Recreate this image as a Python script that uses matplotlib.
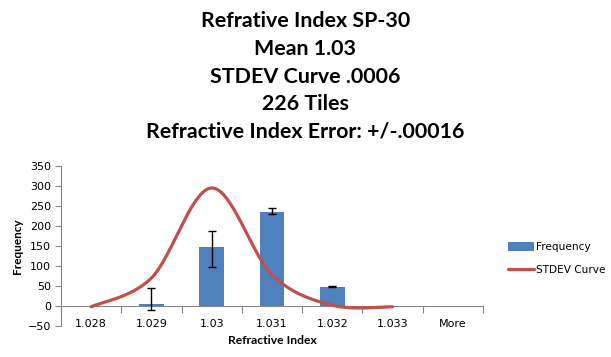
import numpy as np
import matplotlib
matplotlib.use("Agg")
import matplotlib.pyplot as plt

categories = ["1.028", "1.029", "1.03", "1.031", "1.032", "1.033", "More"]
frequency = [0, 5, 148, 235, 48, 0, 0]
err_low = [0, 16, 50, 5, 1, 0, 0]
err_high = [0, 39, 39, 10, 1, 0, 0]
stdev_curve = [-2, 70, 295, 78, 2, -2]
title_lines = ["Refrative Index SP-30", "Mean 1.03", "STDEV Curve .0006",
               "226 Tiles", "Refractive Index Error: +/-.00016"]

BLUE = "#4F81BD"
RED = "#C0504D"
AXIS = "#868686"

W, H = 611, 357
fig = plt.figure(figsize=(W / 100, H / 100), dpi=100)
ax = fig.add_axes([61 / W, 1 - 326 / H, (483 - 61) / W, (326 - 166) / H])

x = np.arange(len(categories))
bars = ax.bar(x, frequency, width=0.41, color=BLUE, zorder=2, label="Frequency")
mask = [i for i in range(len(categories)) if err_low[i] or err_high[i]]
ax.errorbar(x[mask], np.array(frequency)[mask],
            yerr=[np.array(err_low)[mask], np.array(err_high)[mask]],
            fmt="none", ecolor="black", elinewidth=1, capsize=3, capthick=1, zorder=4)

# Smoothed line (Catmull-Rom style, like Excel's smoothed line) through the curve values
def smooth(xs, ys, n=40):
    xs = np.asarray(xs, float); ys = np.asarray(ys, float)
    px = np.concatenate([[xs[0]], xs, [xs[-1]]])
    py = np.concatenate([[ys[0]], ys, [ys[-1]]])
    ox, oy = [], []
    for i in range(1, len(px) - 2):
        p0, p1, p2, p3 = (np.array([px[j], py[j]]) for j in (i - 1, i, i + 1, i + 2))
        c1 = p1 + (p2 - p0) / 6
        c2 = p2 - (p3 - p1) / 6
        t = np.linspace(0, 1, n)[:, None]
        pts = (1 - t) ** 3 * p1 + 3 * (1 - t) ** 2 * t * c1 + 3 * (1 - t) * t ** 2 * c2 + t ** 3 * p2
        ox.extend(pts[:, 0]); oy.extend(pts[:, 1])
    return np.array(ox), np.array(oy)

sx, sy = smooth(np.arange(len(stdev_curve)), stdev_curve)
line, = ax.plot(sx, sy, color=RED, lw=2.3, zorder=3, label="STDEV Curve", solid_capstyle="round")

ax.set_xlim(-0.5, len(categories) - 0.5)
ax.set_ylim(-50, 350)
ax.set_yticks(np.arange(-50, 351, 50))

for s in ("top", "right"):
    ax.spines[s].set_visible(False)
ax.spines["left"].set_color(AXIS)
ax.spines["bottom"].set_color(AXIS)
ax.spines["bottom"].set_position(("data", 0))
ax.spines["left"].set_linewidth(0.8)
ax.spines["bottom"].set_linewidth(0.8)

bounds = np.arange(-0.5, len(categories))
ax.set_xticks(bounds, minor=False)
ax.set_xticklabels([""] * len(bounds))
ax.set_xticks(x, minor=True)
ax.set_xticklabels(categories, minor=True)
ax.tick_params(axis="x", which="major", length=5, color=AXIS, direction="out")
ax.tick_params(axis="x", which="minor", length=0, pad=9.5, labelsize=8, labelcolor="black")
ax.tick_params(axis="y", length=4, color=AXIS, labelsize=8, labelcolor="black", pad=3)

ax.text(0.5, -0.0875, "Refractive Index", transform=ax.transAxes, ha="center", va="center",
        fontsize=8.7, fontweight="bold", family="Lato")
fig.text(18 / W, 1 - 246 / H, "Frequency", rotation=90, ha="center", va="center",
         fontsize=8.5, fontweight="bold", family="Lato")

baselines = [27.3, 55, 82.7, 110, 137.7]
for t, yy in zip(title_lines, baselines):
    fig.text(305.5 / W, 1 - yy / H, t, ha="center", va="baseline", fontsize=15.4,
             fontweight="bold", family="Lato")

leg = fig.legend([bars, line], ["Frequency", "STDEV Curve"], loc="center left",
                 bbox_to_anchor=(503 / W, 1 - 258.5 / H), frameon=False,
                 fontsize=7.6, handlelength=2.4, handleheight=0.8, handletextpad=0.2,
                 labelspacing=1.2, borderpad=0)

fig.savefig("out.png", dpi=100)
